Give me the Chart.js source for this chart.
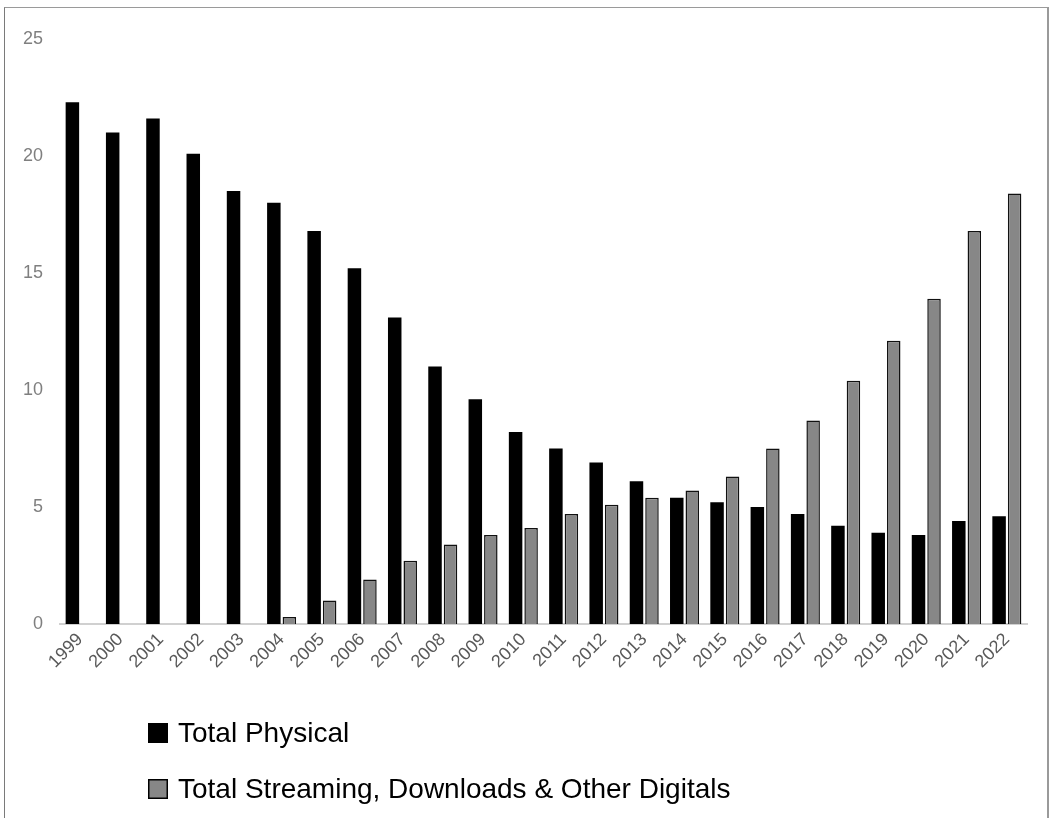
<!DOCTYPE html>
<html>
<head>
<meta charset="utf-8">
<script src="https://cdn.jsdelivr.net/npm/chart.js@4"></script>
<style>
  html, body { margin: 0; padding: 0; background: #fff; overflow: hidden; }
  #wrap { position: relative; width: 1051px; height: 818px; }
  #frame {
    position: absolute; left: 4px; top: 7px; width: 1042px; height: 900px;
    border-top: 1px solid #9a9a9a; border-left: 1px solid #7a7a7a; border-right: 2px solid #9a9a9a;
    pointer-events: none;
  }
  canvas { position: absolute; left: 0; top: 0; }
</style>
</head>
<body>
<div id="wrap">
  <canvas id="chart" width="1051" height="818"></canvas>
  <div id="frame"></div>
</div>
<script>
// Years on the category axis
const years = ['1999','2000','2001','2002','2003','2004','2005','2006','2007','2008','2009','2010',
               '2011','2012','2013','2014','2015','2016','2017','2018','2019','2020','2021','2022'];

// Revenue by format
const physical = [22.3, 21.0, 21.6, 20.1, 18.5, 18.0, 16.8, 15.2, 13.1, 11.0, 9.6, 8.2,
                  7.5, 6.9, 6.1, 5.4, 5.2, 5.0, 4.7, 4.2, 3.9, 3.8, 4.4, 4.6];
const digital  = [null, null, null, null, null, 0.3, 1.0, 1.9, 2.7, 3.4, 3.8, 4.1,
                  4.7, 5.1, 5.4, 5.7, 6.3, 7.5, 8.7, 10.4, 12.1, 13.9, 16.8, 18.4];

const seriesNames = ['Total Physical', 'Total Streaming, Downloads & Other Digitals'];

// Value axis ticks
const yTicks = [0, 5, 10, 15, 20, 25];

const FONT = "'Liberation Sans', Arial, sans-serif";

// Stacked legend drawn beneath the axis labels
const stackedLegend = {
  id: 'stackedLegend',
  afterDraw(chart) {
    const ctx = chart.ctx;
    const rows = [733, 789];
    ctx.save();
    chart.data.datasets.forEach((ds, i) => {
      const cy = rows[i];
      const box = 20;
      const bx = 148;
      ctx.fillStyle = ds.backgroundColor;
      ctx.fillRect(bx, cy - box / 2, box, box);
      ctx.lineWidth = 1.5;
      ctx.strokeStyle = '#000';
      ctx.strokeRect(bx + 0.75, cy - box / 2 + 0.75, box - 1.5, box - 1.5);
      ctx.fillStyle = '#000';
      ctx.font = '28px ' + FONT;
      ctx.textAlign = 'left';
      ctx.textBaseline = 'middle';
      ctx.fillText(ds.label, 178, cy + 1);
    });
    ctx.restore();
  }
};

new Chart(document.getElementById('chart'), {
  type: 'bar',
  data: {
    labels: years,
    datasets: [
      {
        label: seriesNames[0],
        data: physical,
        backgroundColor: '#000000',
        borderColor: '#000000',
        borderWidth: 0,
        categoryPercentage: 0.77,
        barPercentage: 0.87
      },
      {
        label: seriesNames[1],
        data: digital,
        backgroundColor: '#878787',
        borderColor: '#111111',
        borderWidth: 1.5,
        borderSkipped: 'bottom',
        categoryPercentage: 0.77,
        barPercentage: 0.87
      }
    ]
  },
  options: {
    responsive: false,
    animation: false,
    layout: { padding: { top: 39, right: 24, bottom: 0, left: 0 } },
    plugins: {
      legend: { display: false },
      tooltip: { enabled: false }
    },
    scales: {
      x: {
        grid: { display: false, drawTicks: false },
        border: { display: true, color: '#d0d0d0', width: 2 },
        ticks: {
          color: '#595959',
          font: { family: FONT, size: 18 },
          minRotation: 45,
          maxRotation: 45,
          padding: 5,
          autoSkip: false
        },
        afterFit(scale) { scale.height = 194; }
      },
      y: {
        min: 0,
        max: 25,
        afterBuildTicks(scale) { scale.ticks = yTicks.map(v => ({ value: v })); },
        grid: { display: false, drawTicks: false },
        border: { display: false },
        ticks: {
          color: '#7f7f7f',
          font: { family: FONT, size: 18 },
          padding: 17
        },
        afterFit(scale) { scale.width = 60; }
      }
    }
  },
  plugins: [stackedLegend]
});
</script>
</body>
</html>
